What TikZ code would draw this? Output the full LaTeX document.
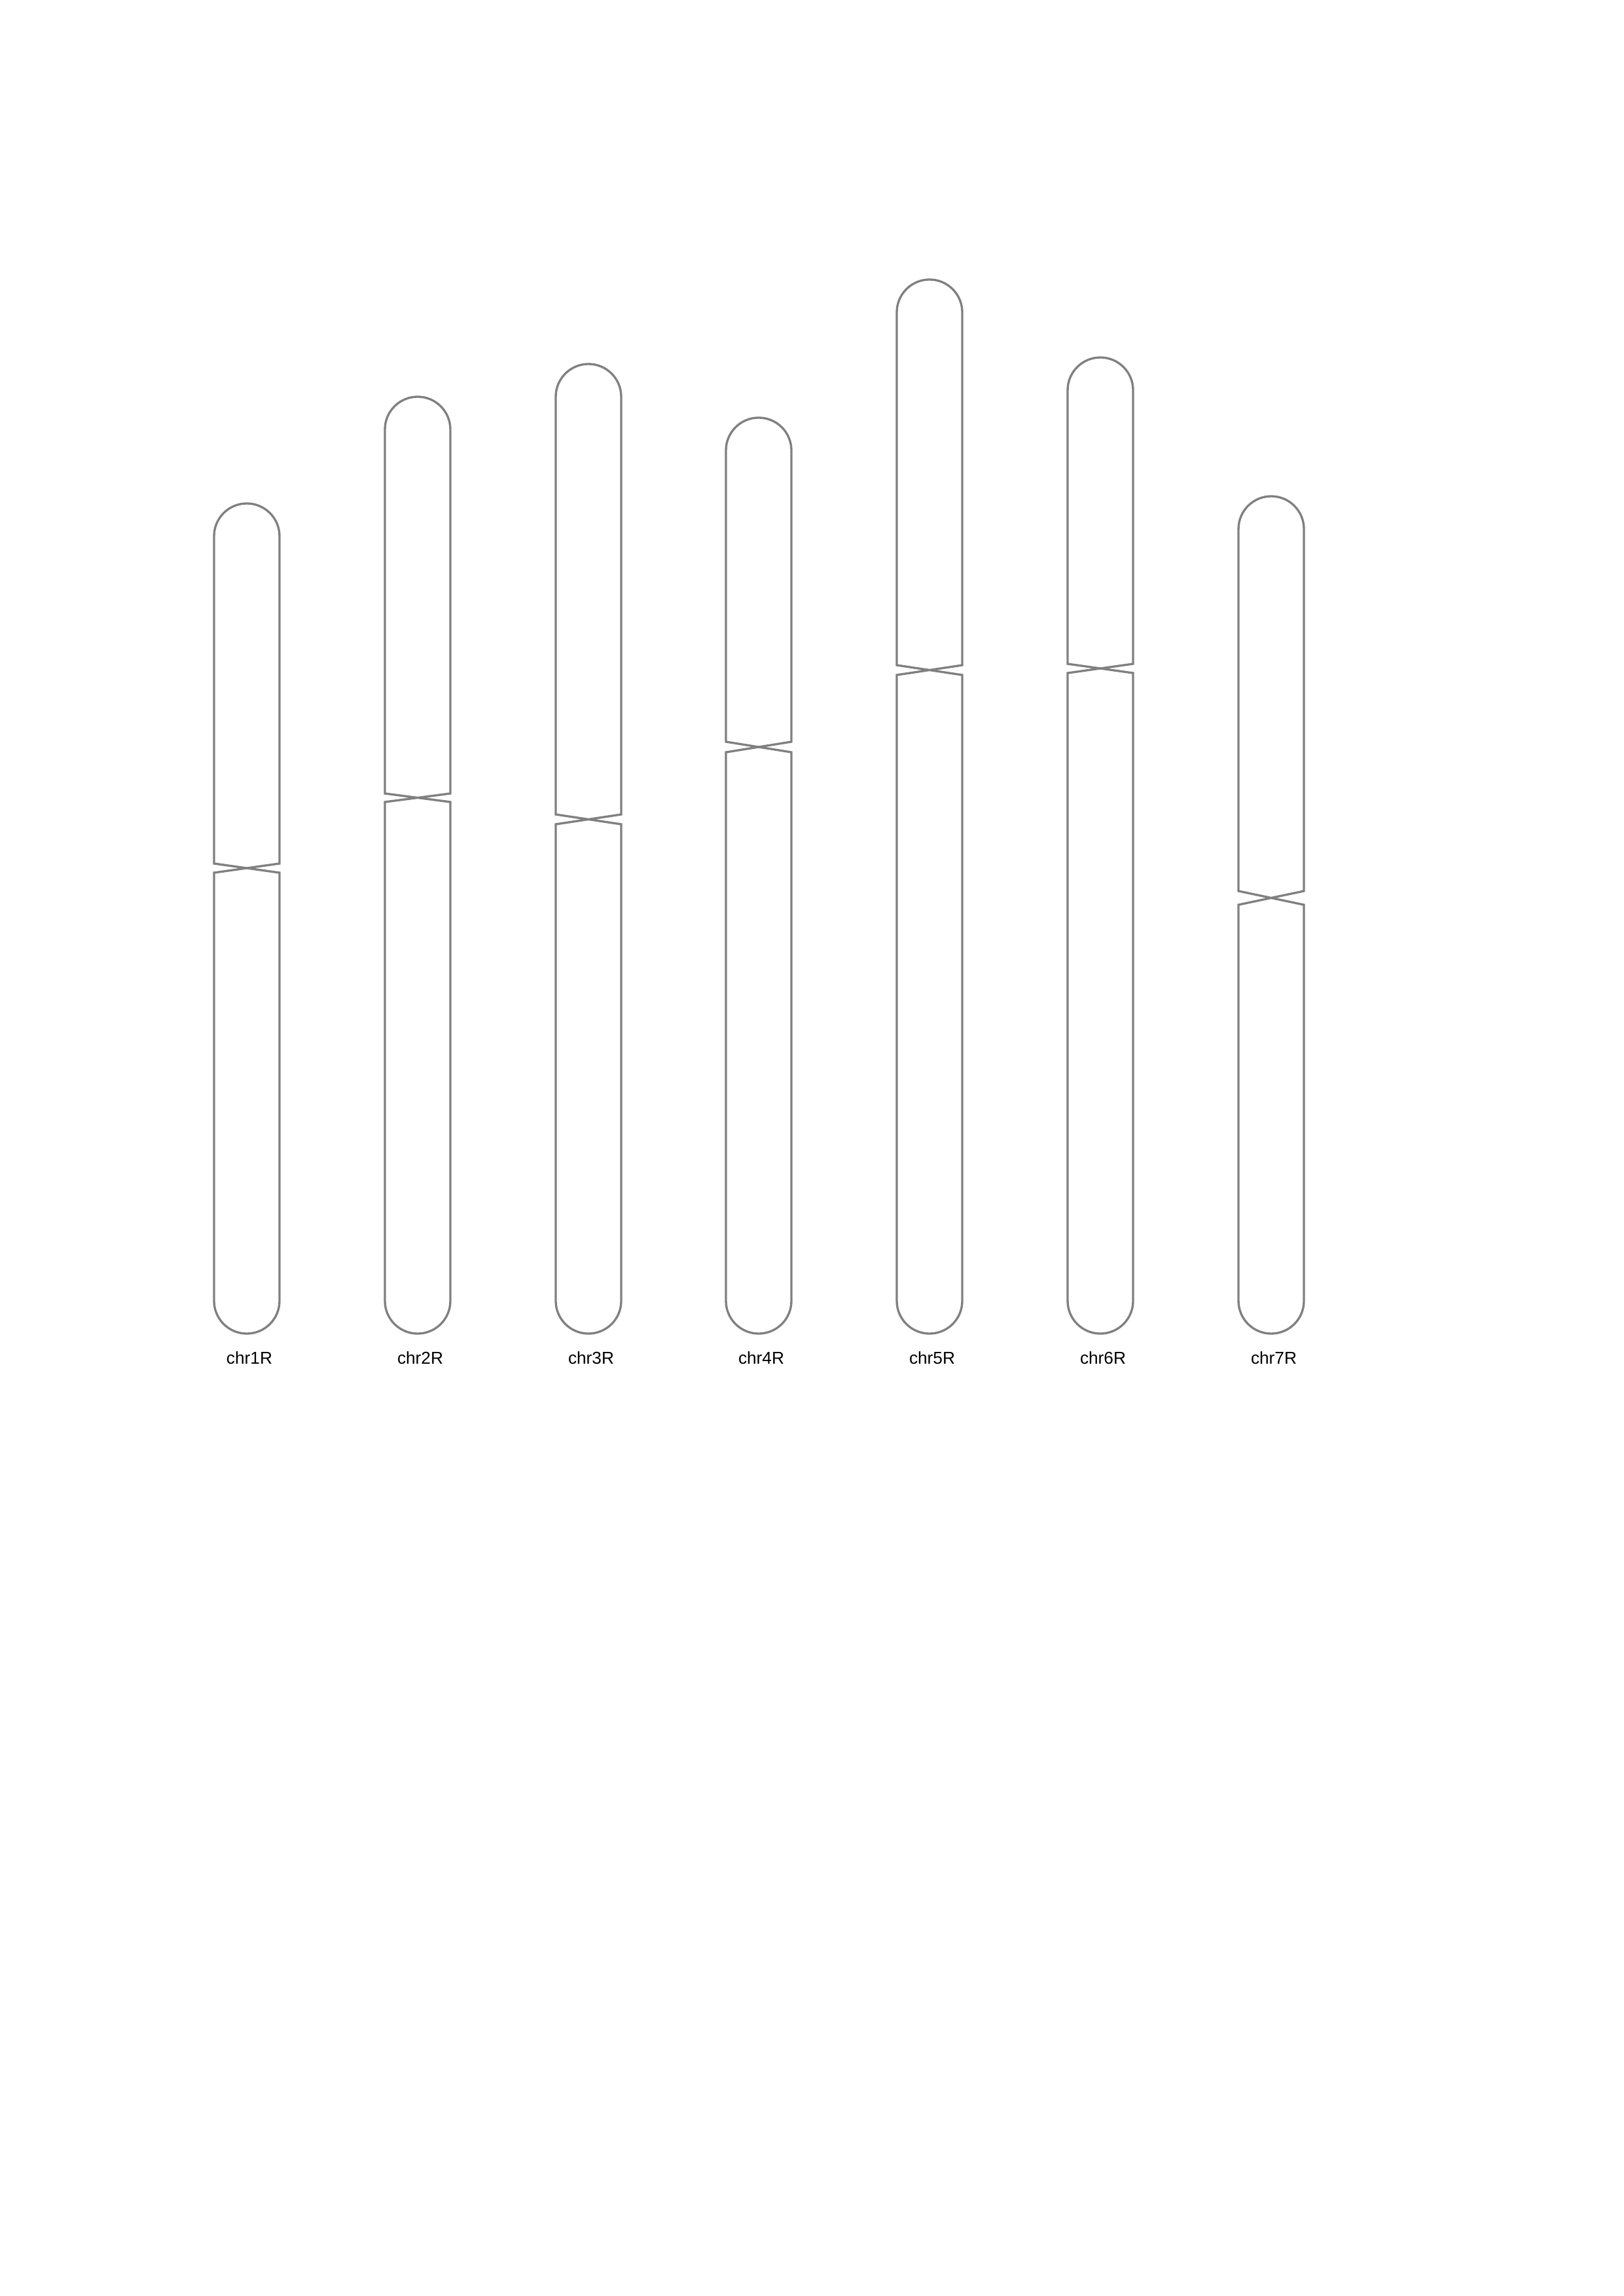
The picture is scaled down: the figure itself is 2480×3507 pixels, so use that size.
\documentclass[tikz,border=0pt]{standalone}
\usepackage{fontspec}
\setmainfont{Liberation Sans}
\begin{document}
\begin{tikzpicture}[x=0.24pt,y=-0.24pt,
  chromline/.style={draw=black!50, line width=0.8pt, line join=miter},
  chromlabel/.style={anchor=base, inner sep=0pt, font=\fontsize{6.3}{7.5}\selectfont}]
\fill[white] (0,0) rectangle (2480,3507);
\useasboundingbox (0,0) rectangle (2480,3507);
% \drawchrom{center x}{top}{upper centromere}{lower centromere}{bottom}{label}
\newcommand{\drawchrom}[6]{%
  \draw[chromline] (#1-50,#3) -- (#1-50,#2+50)
    arc[start angle=180, end angle=360, x radius=50, y radius=50]
    -- (#1+50,#3) -- (#1-50,#4) -- (#1-50,#5-50)
    arc[start angle=180, end angle=0, x radius=50, y radius=50]
    -- (#1+50,#4) -- cycle;
  \node[chromlabel] (#6) at (#1+4,2083) {#6};
}
\drawchrom{377}{769}{1319}{1333}{2037}{chr1R}
\drawchrom{638}{606}{1212}{1225}{2037}{chr2R}
\drawchrom{899}{556}{1244}{1259}{2037}{chr3R}
\drawchrom{1159}{638}{1133}{1149}{2037}{chr4R}
\drawchrom{1420}{427}{1016}{1031}{2037}{chr5R}
\drawchrom{1681}{546}{1014}{1028}{2037}{chr6R}
\drawchrom{1942}{758}{1361}{1382}{2037}{chr7R}
\end{tikzpicture}
\end{document}
